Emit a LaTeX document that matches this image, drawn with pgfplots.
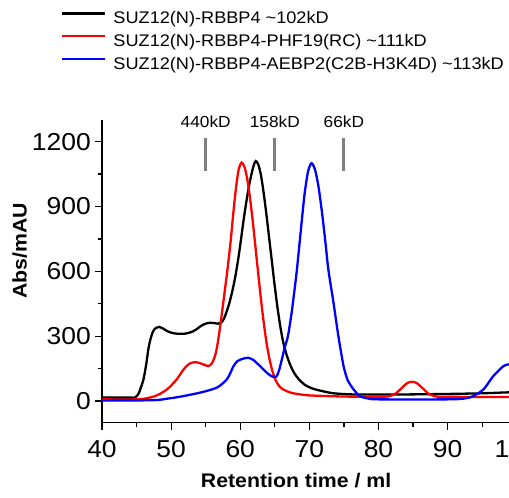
\documentclass[border=0pt]{standalone}
\usepackage{pgfplots}
\pgfplotsset{compat=1.18}
\usepackage{fontspec}
\setmainfont{Liberation Sans}[FakeStretch=1.08]
\definecolor{mred}{RGB}{255,0,0}
\definecolor{mblue}{RGB}{0,0,255}
\definecolor{mgray}{RGB}{128,128,128}
\begin{document}
\begin{tikzpicture}[x=1pt,y=1pt]
\begin{axis}[
  at={(102pt,75.3pt)}, anchor=south west,
  scale only axis, width=414.7pt, height=302.7pt,
  xmin=40, xmax=100, ymin=-100, ymax=1300,
  axis x line*=bottom, axis y line*=left,
  axis line style={line width=1.3pt},
  xtick={40,50,...,100}, minor x tick num=1,
  ytick={0,300,...,1200}, minor y tick num=1,
  tick align=outside,
  major tick length=7pt, minor tick length=4pt,
  every tick/.style={black, line width=1.2pt},
  /pgf/number format/assume math mode=true,
  /pgf/number format/1000 sep={},
  ticklabel style={font=\fontsize{24.5}{24.5}\selectfont},
  yticklabel style={inner sep=4pt},
  xticklabel style={inner sep=10pt},
  xlabel={Retention time / ml},
  ylabel={Abs/mAU},
  label style={font=\bfseries\fontsize{19.7}{19.7}\selectfont},
  xlabel style={at={(axis description cs:0.468,-0.2157)}, anchor=base},
  ylabel style={at={(axis description cs:-0.1816,0.567)}, anchor=base},
  clip mode=individual,
  legend cell align=left,
  legend image code/.code={\draw[#1] (0pt,6.1pt) -- (43pt,6.1pt);},
  legend style={at={(axis description cs:-0.0989,1.36)}, anchor=north west,
    draw=none, fill=none, inner sep=0pt,
    font=\fontsize{16.8}{16.8}\selectfont,
    nodes={inner sep=0pt, text height=12.5pt, text depth=4pt},
    row sep=6.3pt,
    /tikz/every odd column/.append style={column sep=7pt}},
]
\addplot[black, line width=2.3pt, smooth, tension=0.45] coordinates {
(40,16) (44,16) (44.8,17) (45.3,35) (45.7,70) (46.0,100) (46.4,170) (46.7,239)
(47.0,285) (47.4,323) (47.8,338) (48.25,343) (48.8,336) (49.3,326) (49.85,318)
(50.5,313) (51.2,311) (51.8,311) (52.5,315) (53.2,323) (53.8,335) (54.3,347)
(54.7,354) (55.2,360) (55.6,362) (56.2,361) (56.8,358) (57.3,364) (57.7,385)
(58.1,420) (58.5,462) (58.9,515) (59.3,578) (59.7,655) (60.1,745) (60.5,840)
(60.9,925) (61.3,1000) (61.7,1060) (62.0,1095) (62.25,1110) (62.6,1095)
(63.0,1045) (63.4,960) (63.8,860) (64.2,750) (64.6,640) (65.0,530) (65.4,430)
(65.8,345) (66.2,275) (66.7,215) (67.2,170) (67.8,130) (68.5,100) (69.4,74)
(70.3,60) (71.1,52) (72.3,43) (73.5,36) (76,31) (80,30) (85,31) (90,33) (95,36)
(100,42)
};
\addlegendentry{SUZ12(N)-RBBP4 \textasciitilde102kD}
\addplot[mred, line width=2.3pt, smooth, tension=0.45] coordinates {
(40,8) (45,8) (46.9,16) (48.2,30) (49.4,54) (50.1,75) (50.8,100) (51.4,128)
(52.0,154) (52.7,174) (53.5,180) (54.1,176) (54.7,169) (55.4,162) (55.9,175)
(56.35,208) (56.7,260) (57.1,346) (57.6,469) (58.1,595) (58.6,735) (59.0,870)
(59.4,990) (59.8,1075) (60.2,1103) (60.6,1084) (61.0,1029) (61.4,943)
(61.8,835) (62.2,714) (62.6,590) (63.0,471) (63.4,363) (63.8,270) (64.2,200)
(64.6,145) (65.0,105) (65.4,80) (65.8,64) (66.2,54) (67.2,40) (68.2,33)
(70.1,26) (75,21) (80,20) (81.5,22) (82.5,35) (83.5,65) (84.2,84) (84.8,89)
(85.5,84) (86.3,62) (87.2,35) (88.0,24) (89,20) (95,19) (100,19)
};
\addlegendentry{SUZ12(N)-RBBP4-PHF19(RC) \textasciitilde111kD}
\addplot[mblue, line width=2.3pt, smooth, tension=0.45] coordinates {
(40,3) (45,3) (48,5) (49.4,11) (50.5,16) (51.8,23) (53,31) (54.2,39) (55.5,50)
(56.6,62) (57.3,77) (58.05,100) (58.5,125) (59.0,160) (59.6,185) (60.5,197)
(61.2,200) (61.9,190) (62.6,170) (63.35,146) (64.0,127) (64.6,114) (65.2,112)
(65.6,140) (66.0,190) (66.5,255) (66.9,300) (67.4,400) (67.8,500) (68.2,608)
(68.8,800) (69.3,955) (69.8,1060) (70.3,1100) (70.8,1073) (71.3,996) (71.8,880)
(72.3,742) (72.75,608) (73.5,454) (74.2,300) (74.95,162) (75.5,100) (75.9,77)
(76.4,54) (77.3,23) (78.5,12) (80,8) (90,8) (92.5,12) (93.7,23) (95.2,54)
(96.6,115) (98.1,162) (98.9,170) (100,175)
};
\addlegendentry{SUZ12(N)-RBBP4-AEBP2(C2B-H3K4D) \textasciitilde113kD}
\addplot[mgray, line width=3pt, forget plot] coordinates {(55,1065) (55,1217)};
\addplot[mgray, line width=3pt, forget plot] coordinates {(65,1065) (65,1217)};
\addplot[mgray, line width=3pt, forget plot] coordinates {(75,1065) (75,1217)};
\node[anchor=base, font=\fontsize{16}{16}\selectfont, inner sep=0pt] at (axis cs:55,1266) {440kD};
\node[anchor=base, font=\fontsize{16}{16}\selectfont, inner sep=0pt] at (axis cs:65,1266) {158kD};
\node[anchor=base, font=\fontsize{16}{16}\selectfont, inner sep=0pt] at (axis cs:75,1266) {66kD};
\end{axis}
\pgfresetboundingbox
\useasboundingbox (0pt,0pt) rectangle (509pt,498pt);
\end{tikzpicture}
\end{document}
